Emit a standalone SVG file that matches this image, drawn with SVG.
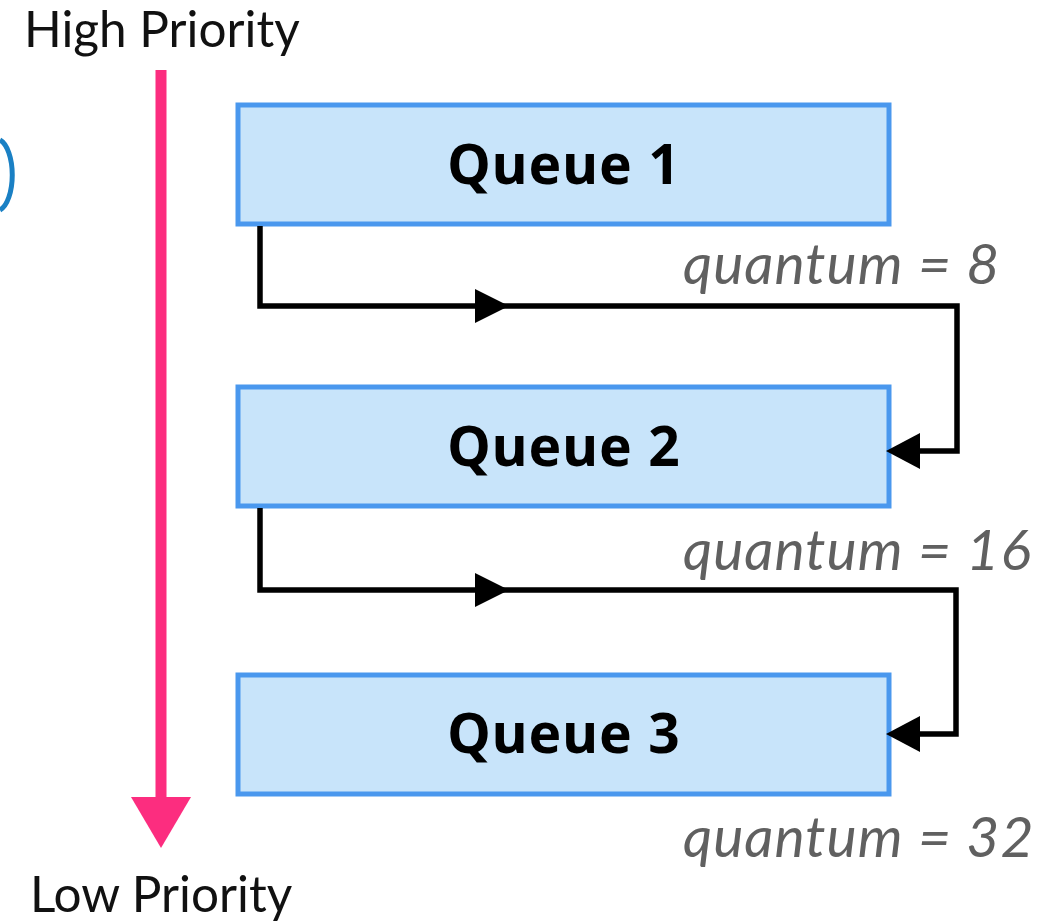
<svg xmlns="http://www.w3.org/2000/svg" width="1061" height="922" viewBox="0 0 1061 922">
<style>
.box{fill:#c8e4fa;stroke:#4a98ee;stroke-width:5}
.qt{font-family:"Noto Sans","Open Sans",sans-serif;font-weight:bold;font-size:55px;letter-spacing:1px;fill:#000;text-anchor:middle}
.lbl{font-family:Lato,"Liberation Sans",sans-serif;font-style:italic;font-size:57px;letter-spacing:1px;fill:#606060}
.pri{font-family:Lato,"Liberation Sans",sans-serif;font-size:49.5px;fill:#111}
.con{fill:none;stroke:#000;stroke-width:5.5}
.ah{fill:#000}
</style>
<rect width="1061" height="922" fill="#fff"/>
<path d="M0,140 A16,36 0 0 1 0,210" fill="none" stroke="#1a80c4" stroke-width="5"/>
<g id="priority">
<text class="pri" x="24" y="47">High Priority</text>
<line x1="161" y1="70" x2="161" y2="800" stroke="#fc2d7f" stroke-width="11"/>
<polygon points="131,797 191,797 161,848" fill="#fc2d7f"/>
<text class="pri" x="30" y="912">Low Priority</text>
</g>
<g id="queue1">
<rect class="box" x="238" y="105" width="651" height="119"/>
<text class="qt" x="564" y="184">Queue 1</text>
</g>
<g id="queue2">
<rect class="box" x="238" y="387" width="651" height="119"/>
<text class="qt" x="564" y="466">Queue 2</text>
</g>
<g id="queue3">
<rect class="box" x="238" y="675" width="651" height="119"/>
<text class="qt" x="564" y="753">Queue 3</text>
</g>
<g id="connectors">
<path class="con" d="M260,226 V306 H957 V451 H910"/>
<polygon class="ah" points="475,289 475,323 509,306"/>
<polygon class="ah" points="886,451 920,433 920,469"/>
<path class="con" d="M260,508 V590 H956 V734 H910"/>
<polygon class="ah" points="475,573 475,607 509,590"/>
<polygon class="ah" points="886,734 920,716 920,752"/>
</g>
<g id="labels">
<text class="lbl" x="683" y="284">quantum = 8</text>
<text class="lbl" x="683" y="570">quantum = 16</text>
<text class="lbl" x="683" y="857">quantum = 32</text>
</g>
</svg>
